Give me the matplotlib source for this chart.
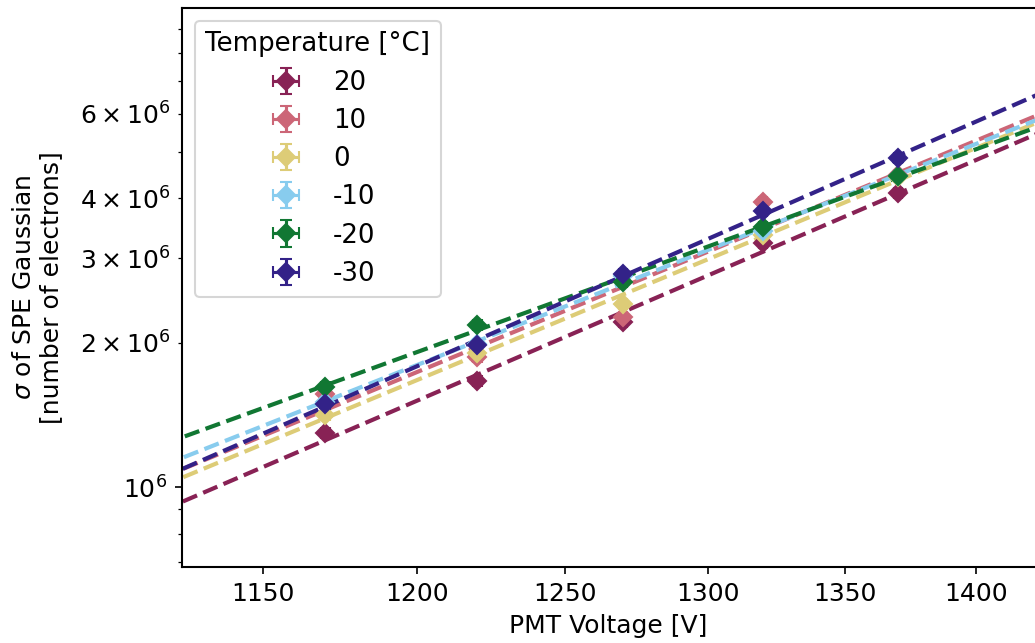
import matplotlib
matplotlib.use("Agg")
import matplotlib.pyplot as plt
import matplotlib.ticker as ticker
import numpy as np

# PMT voltages [V]
voltage = [1170, 1220, 1270, 1320, 1370]
temps = ["20", "10", "0", "-10", "-20", "-30"]
colors = ["#882255", "#CC6677", "#DDCC77", "#88CCEE", "#117733", "#332288"]

# sigma of SPE gaussian [electrons]
sigma_20 = [1.30e6, 1.664e6, 2.211e6, 3.221e6, 4.093e6]
sigma_10 = [1.562e6, 1.865e6, 2.265e6, 3.931e6, 4.46e6]
sigma_0 = [1.414e6, 1.90e6, 2.408e6, 3.36e6, 4.42e6]
sigma_m10 = [1.505e6, 1.99e6, 2.75e6, 3.42e6, 4.45e6]
sigma_m20 = [1.620e6, 2.177e6, 2.679e6, 3.477e6, 4.446e6]
sigma_m30 = [1.489e6, 1.978e6, 2.780e6, 3.760e6, 4.839e6]
sigmas = [sigma_20, sigma_10, sigma_0, sigma_m10, sigma_m20, sigma_m30]

volt_err = [1.5, 1.5, 1.5, 1.5, 1.5]
rel_err = [0.015, 0.015, 0.015, 0.015, 0.015]

plt.rcParams["font.size"] = 12

fig = plt.figure(figsize=(6.9, 4.2867), dpi=150)
ax = fig.add_axes([0.1758, 0.1182, 0.8242, 0.8694])

x = np.array(voltage, dtype=float)
x_fit = np.geomspace(1100, 1500, 200)
for t, c, s in zip(temps, colors, sigmas):
    y = np.array(s)
    ax.errorbar(x, y, xerr=volt_err, yerr=y * np.array(rel_err), fmt="D",
                color=c, ms=6, capsize=3, label=t)
    p = np.polyfit(np.log(x), np.log(y), 1)
    ax.plot(x_fit, np.exp(np.polyval(p, np.log(x_fit))), "--", color=c, lw=2)

ax.set_xscale("log")
ax.set_yscale("log")
ax.set_xlim(1124.6, 1422.8)
ax.set_ylim(0.683e6, 9.95e6)

ax.xaxis.set_major_locator(ticker.FixedLocator([1150, 1200, 1250, 1300, 1350, 1400]))
ax.xaxis.set_major_formatter(ticker.FormatStrFormatter("%d"))
ax.xaxis.set_minor_locator(ticker.NullLocator())
ax.yaxis.set_minor_formatter(ticker.LogFormatterSciNotation(minor_thresholds=(2, 0.4)))

for sp in ax.spines.values():
    sp.set_linewidth(1.0)
ax.spines["right"].set_visible(False)

ax.set_xlabel("PMT Voltage [V]")
ax.set_ylabel("$\\sigma$ of SPE Gaussian\n[number of electrons]", labelpad=8)
ax.legend(title="Temperature [°C]", loc="upper left", fontsize=12.5,
          title_fontsize=12.5, labelspacing=0.47)

fig.savefig("out.png", dpi=150)
